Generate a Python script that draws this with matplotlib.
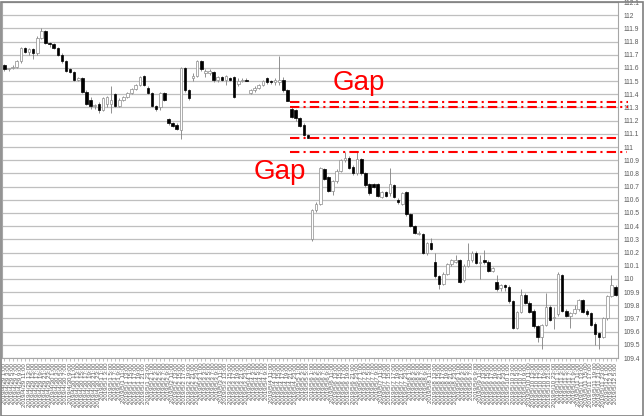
import numpy as np
import pandas as pd
import matplotlib
matplotlib.use('Agg')
import matplotlib.pyplot as plt
from matplotlib.patches import Rectangle
import matplotlib.transforms as mtransforms

# USD/JPY ローソク足 (チャートから読み取り)
opens = [111.62, 111.59, 111.60, 111.61, 111.65, 111.75, 111.72, 111.74, 111.71, 111.83,
         111.88, 111.79, 111.78, 111.75, 111.70, 111.65, 111.59, 111.57, 111.51, 111.52,
         111.42, 111.36, 111.31, 111.33, 111.28, 111.33, 111.33, 111.40, 111.31, 111.36,
         111.38, 111.41, 111.44, 111.47, 111.54, 111.45, 111.41, 111.31, 111.30, 111.41,
         111.21, 111.18, 111.17, 111.13, 111.60, 111.43, 111.52, 111.54, 111.65, 111.56,
         111.56, 111.57, 111.51, 111.53, 111.51, 111.52, 111.53, 111.48, 111.50, 111.51,
         111.41, 111.43, 111.45, 111.47, 111.52, 111.50, 111.49, 111.49, 111.51, 111.43,
         111.29, 111.28, 111.22, 111.17, 111.09,
         110.30, 110.52, 110.57, 110.83, 110.77, 110.67, 110.74, 110.82, 110.90, 110.92,
         110.85, 110.80, 110.91, 110.80, 110.72, 110.72, 110.72, 110.62, 110.66, 110.65,
         110.71, 110.60, 110.57, 110.66, 110.49, 110.40, 110.34, 110.34, 110.20, 110.27,
         110.13, 110.02, 109.96, 110.04, 110.11, 110.13, 110.14, 109.99, 110.10, 110.14,
         110.20, 110.12, 110.14, 110.13, 110.06, 109.98, 109.93, 109.95, 109.94, 109.83,
         109.63, 109.75, 109.88, 109.82, 109.76, 109.64, 109.56, 109.65, 109.79, 109.70,
         109.73, 110.03, 109.76, 109.72, 109.74, 109.77, 109.84, 109.76, 109.74, 109.66,
         109.59, 109.56, 109.70, 109.87, 109.94]
highs = [111.63, 111.60, 111.62, 111.66, 111.76, 111.76, 111.75, 111.75, 111.84, 111.90,
         111.89, 111.80, 111.79, 111.76, 111.71, 111.66, 111.60, 111.58, 111.53, 111.53,
         111.43, 111.38, 111.33, 111.34, 111.38, 111.39, 111.46, 111.41, 111.37, 111.39,
         111.42, 111.45, 111.48, 111.54, 111.55, 111.46, 111.42, 111.32, 111.42, 111.42,
         111.22, 111.19, 111.18, 111.61, 111.61, 111.44, 111.56, 111.66, 111.66, 111.59,
         111.59, 111.58, 111.54, 111.54, 111.55, 111.53, 111.54, 111.52, 111.52, 111.52,
         111.44, 111.46, 111.48, 111.51, 111.53, 111.51, 111.52, 111.69, 111.53, 111.44,
         111.30, 111.29, 111.23, 111.18, 111.10,
         110.53, 110.58, 110.85, 110.84, 110.78, 110.75, 110.83, 110.91, 110.96, 110.93,
         110.86, 110.96, 110.92, 110.81, 110.73, 110.73, 110.73, 110.67, 110.67, 110.84,
         110.72, 110.61, 110.66, 110.67, 110.50, 110.41, 110.36, 110.35, 110.28, 110.31,
         110.20, 110.03, 110.05, 110.12, 110.15, 110.18, 110.15, 110.11, 110.27, 110.21,
         110.21, 110.18, 110.22, 110.14, 110.09, 110.03, 109.96, 109.96, 109.95, 109.84,
         109.76, 109.92, 109.89, 109.83, 109.77, 109.65, 109.66, 109.89, 109.80, 109.79,
         110.05, 110.04, 109.77, 109.75, 109.80, 109.85, 109.85, 109.77, 109.75, 109.67,
         109.60, 109.71, 109.88, 110.03, 109.95]
lows = [111.58, 111.58, 111.59, 111.60, 111.64, 111.71, 111.70, 111.67, 111.70, 111.82,
        111.78, 111.76, 111.74, 111.69, 111.64, 111.57, 111.56, 111.50, 111.50, 111.41,
        111.32, 111.29, 111.29, 111.26, 111.27, 111.30, 111.26, 111.30, 111.30, 111.35,
        111.37, 111.40, 111.43, 111.46, 111.46, 111.40, 111.30, 111.27, 111.28, 111.35,
        111.17, 111.15, 111.13, 111.06, 111.42, 111.36, 111.50, 111.53, 111.58, 111.53,
        111.55, 111.49, 111.49, 111.50, 111.47, 111.50, 111.37, 111.46, 111.49, 111.50,
        111.40, 111.42, 111.44, 111.46, 111.48, 111.48, 111.47, 111.47, 111.42, 111.35,
        111.22, 111.20, 111.15, 111.08, 111.07,
        110.29, 110.51, 110.56, 110.75, 110.66, 110.64, 110.73, 110.81, 110.89, 110.83,
        110.79, 110.79, 110.79, 110.70, 110.64, 110.69, 110.62, 110.61, 110.62, 110.63,
        110.61, 110.57, 110.56, 110.48, 110.39, 110.34, 110.33, 110.19, 110.18, 110.22,
        110.01, 109.92, 109.95, 110.03, 110.10, 110.12, 109.97, 109.98, 110.09, 110.13,
        110.11, 110.00, 110.11, 110.05, 110.05, 109.91, 109.91, 109.91, 109.82, 109.62,
        109.62, 109.74, 109.81, 109.74, 109.63, 109.52, 109.47, 109.64, 109.68, 109.62,
        109.72, 109.75, 109.71, 109.63, 109.73, 109.76, 109.74, 109.72, 109.64, 109.50,
        109.47, 109.55, 109.69, 109.86, 109.87]
closes = [111.59, 111.60, 111.61, 111.65, 111.75, 111.72, 111.74, 111.71, 111.83, 111.88,
          111.79, 111.78, 111.75, 111.70, 111.65, 111.58, 111.57, 111.51, 111.52, 111.42,
          111.33, 111.31, 111.32, 111.28, 111.37, 111.38, 111.36, 111.31, 111.36, 111.38,
          111.41, 111.44, 111.47, 111.53, 111.47, 111.41, 111.31, 111.29, 111.41, 111.36,
          111.18, 111.16, 111.14, 111.60, 111.43, 111.37, 111.54, 111.65, 111.59, 111.58,
          111.58, 111.51, 111.53, 111.51, 111.54, 111.51, 111.38, 111.50, 111.51, 111.50,
          111.43, 111.45, 111.47, 111.50, 111.49, 111.49, 111.51, 111.51, 111.43, 111.35,
          111.23, 111.22, 111.16, 111.09, 111.07,
          110.52, 110.57, 110.84, 110.76, 110.67, 110.74, 110.82, 110.90, 110.92, 110.84,
          110.80, 110.91, 110.80, 110.71, 110.65, 110.70, 110.63, 110.66, 110.63, 110.72,
          110.62, 110.58, 110.65, 110.49, 110.40, 110.35, 110.35, 110.20, 110.27, 110.23,
          110.02, 109.96, 110.04, 110.11, 110.14, 110.14, 109.98, 110.10, 110.14, 110.20,
          110.12, 110.13, 110.13, 110.06, 110.08, 109.92, 109.95, 109.94, 109.83, 109.63,
          109.75, 109.88, 109.82, 109.75, 109.64, 109.56, 109.65, 109.79, 109.69, 109.71,
          110.04, 109.76, 109.72, 109.74, 109.77, 109.84, 109.75, 109.73, 109.65, 109.58,
          109.56, 109.70, 109.87, 109.95, 109.88]

# 窓 (Gap) の水準と注記
gap_levels = [111.345, 111.30, 111.07, 110.965]
gap_line_start = 0.4675
gap_line_end = [1.016, 1.016, 1.0, 1.015]
gap_texts = [("Gap", 0.536, 111.43), ("Gap", 0.408, 110.76)]

# 時刻ラベル (2時間毎)
sessions = [("2019-04-29 01:00", 75), ("2019-05-06 01:00", len(closes) - 75)]
labels = []
for start, cnt in sessions:
    for t in pd.date_range(start, periods=cnt, freq="2h"):
        labels.append(f"{t.year}/{t.month}/{t.day} {t.hour}:00")

y_ticks = np.round(np.arange(109.4, 112.11, 0.1), 1)

GRAY = "#595959"
plt.rcParams['font.family'] = ['Liberation Sans', 'DejaVu Sans']

fig = plt.figure(figsize=(6.44, 4.16), dpi=100)
ax = fig.add_axes([2 / 644, 58 / 416, 616 / 644, 356 / 416])

n = len(closes)
x = np.arange(n)
w = 0.62
for i in range(n):
    o, h, l, c = opens[i], highs[i], lows[i], closes[i]
    up = c >= o
    ax.vlines(x[i], l, h, color="#7f7f7f", lw=0.6, zorder=2)
    bottom = min(o, c)
    height = max(abs(c - o), 0.004)
    ax.add_patch(Rectangle((x[i] - w / 2, bottom), w, height,
                           facecolor="white" if up else "black",
                           edgecolor="#8c8c8c" if up else "black",
                           lw=0.5, zorder=3))

ax.set_xlim(-0.6, n - 0.4)
ax.set_ylim(109.4, 112.1)
ax.set_yticks(y_ticks)
ax.set_yticklabels([f"{v:g}" for v in y_ticks])
ax.yaxis.tick_right()
ax.grid(axis="y", color="#bfbfbf", lw=0.9)
ax.set_axisbelow(True)
ax.tick_params(axis="y", length=0, pad=4, labelsize=4.8, labelcolor=GRAY)
ax.set_xticks(x)
ax.set_xticklabels(labels, rotation=90, fontsize=4.4, color=GRAY)
ax.tick_params(axis="x", length=2, width=0.5, color="#a6a6a6", pad=1.5)
for s in ax.spines.values():
    s.set_color("#a6a6a6")
    s.set_linewidth(0.8)

# 窓のライン
trans = mtransforms.blended_transform_factory(ax.transAxes, ax.transData)
for lvl, x_end in zip(gap_levels, gap_line_end):
    ax.plot([gap_line_start, x_end], [lvl, lvl], transform=trans, color="red",
            lw=1.5, dashes=(4.5, 2, 1, 2), clip_on=False, zorder=5)
for txt, tx, ty in gap_texts:
    ax.text(tx, ty, txt, transform=trans, color="red", fontsize=20,
            va="baseline", ha="left", zorder=6)

fig.patches.append(Rectangle((0.5 / 644, 0.5 / 416), 642 / 644, 414 / 416,
                             transform=fig.transFigure, fill=False,
                             edgecolor="#7f7f7f", lw=1.2))
fig.savefig("out.png", dpi=100)
